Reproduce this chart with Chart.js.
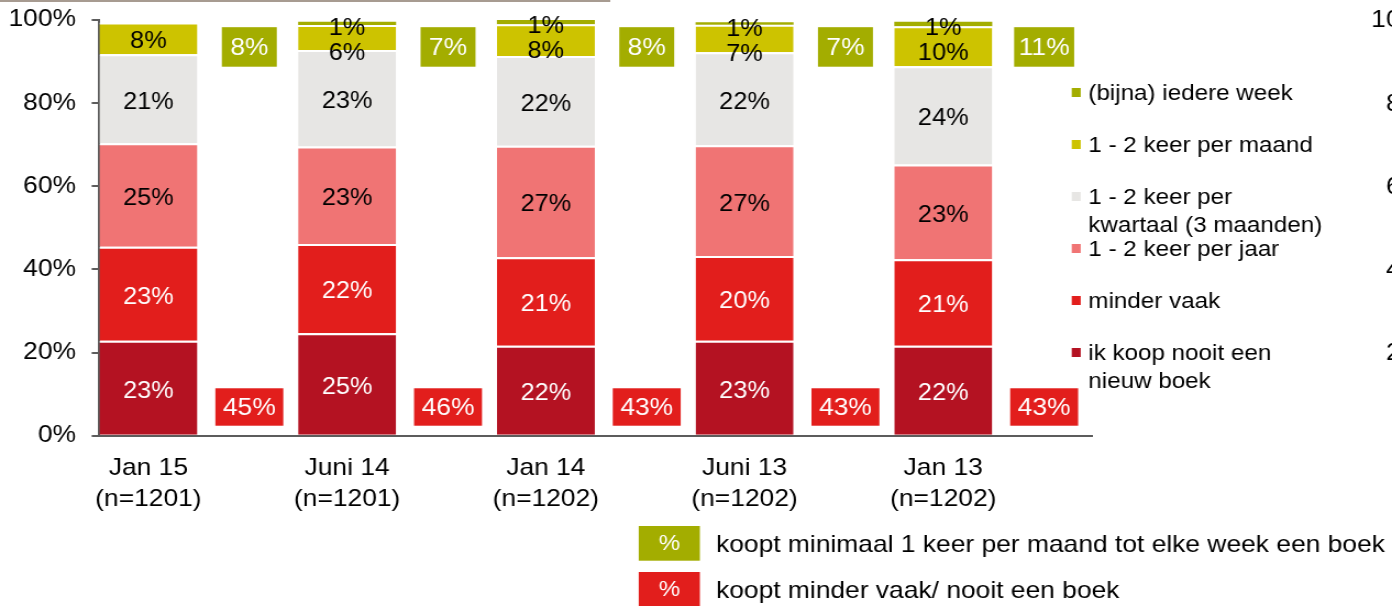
<!DOCTYPE html>
<html>
<head>
<meta charset="utf-8">
<script src="https://cdn.jsdelivr.net/npm/chart.js@4.4.1/dist/chart.umd.min.js"></script>
<style>
  html, body { margin: 0; padding: 0; background: #fff; overflow: hidden; }
  #wrap { width: 1392px; height: 606px; overflow: hidden; }
  /* the source picture is stretched sideways a little, so stretch the canvas too */
  #chart { transform: scaleX(1.09953); transform-origin: 0 0; }
</style>
</head>
<body>
<div id="wrap"><canvas id="chart" width="1266" height="606"></canvas></div>
<script>
// --- Data ---
const categories = [
    ['Jan 15', '(n=1201)'],
    ['Juni 14', '(n=1201)'],
    ['Jan 14', '(n=1202)'],
    ['Juni 13', '(n=1202)'],
    ['Jan 13', '(n=1202)']
];
const nooitValues = [22.8, 24.6, 21.6, 22.8, 21.6];      // ik koop nooit een nieuw boek
const minderValues = [22.6, 21.5, 21.3, 20.4, 20.8];     // minder vaak
const jaarValues = [24.9, 23.4, 26.8, 26.6, 22.8];       // 1 - 2 keer per jaar
const kwartaalValues = [21.4, 23.2, 21.6, 22.4, 23.6];   // 1 - 2 keer per kwartaal
const maandValues = [7.6, 6.0, 7.6, 6.6, 9.6];           // 1 - 2 keer per maand
const weekValues = [0, 0.8, 1.0, 0.6, 1.1];              // (bijna) iedere week
const monthlyTotals = [8, 7, 8, 7, 11];  // koopt minimaal 1 keer per maand
const lessTotals = [45, 46, 43, 43, 43]; // koopt minder vaak / nooit
const yTicks = [0, 20, 40, 60, 80, 100];

const seriesNames = [
    ['ik koop nooit een', 'nieuw boek'],
    ['minder vaak'],
    ['1 - 2 keer per jaar'],
    ['1 - 2 keer per', 'kwartaal (3 maanden)'],
    ['1 - 2 keer per maand'],
    ['(bijna) iedere week']
];
const bottomLegend = [
    'koopt minimaal 1 keer per maand tot elke week een boek',
    'koopt minder vaak/ nooit een boek'
];

// --- Styles ---
const FONT = '"Liberation Sans", Arial, sans-serif';
const seriesColors = ['#b41222', '#e21e1c', '#f07474', '#e7e6e4', '#cdc300', '#a3ad00'];
const labelColors = ['#fff', '#fff', '#000', '#000', '#000', '#000'];
const GREEN_BOX = '#a3ad00';
const RED_BOX = '#e21e1c';
const AXIS_GREY = '#5c5c5c';

// every category gets an empty slot after it for the total boxes
const slotLabels = categories.flatMap(c => [c, '']);
function toSlots(arr) {
    return arr.flatMap(v => [v, null]);
}

const seriesValues = [nooitValues, minderValues, jaarValues, kwartaalValues, maandValues, weekValues];
const datasets = seriesValues.map((vals, d) => ({
    label: seriesNames[d].join(' '),
    data: toSlots(vals),
    backgroundColor: seriesColors[d],
    borderColor: '#fff',
    borderWidth: d === 5 ? 0 : { top: 2, right: 0, bottom: 0, left: 0 },
    categoryPercentage: 1,
    barPercentage: 0.986
}));

function drawBox(ctx, cx, top, bottom, w, color, text) {
    ctx.fillStyle = color;
    ctx.fillRect(cx - w / 2, top, w, bottom - top);
    ctx.fillStyle = '#fff';
    ctx.fillText(text, cx, (top + bottom) / 2 + 1);
}

// --- Labels, total boxes and legends ---
const extrasPlugin = {
    id: 'extras',
    afterDraw(chart) {
        const ctx = chart.ctx;
        const xScale = chart.scales.x;
        const yScale = chart.scales.y;
        const weekMeta = chart.getDatasetMeta(5);
        ctx.save();

        // thin line at the very top of the slide
        ctx.fillStyle = '#a79b91';
        ctx.fillRect(0, 0, 555, 2);

        // segment labels
        ctx.textAlign = 'center';
        ctx.textBaseline = 'middle';
        ctx.font = '23px ' + FONT;
        chart.data.datasets.forEach((ds, d) => {
            const meta = chart.getDatasetMeta(d);
            meta.data.forEach((bar, i) => {
                const v = ds.data[i];
                if (!v) return;
                const c = i / 2;
                let ly = (bar.y + bar.base) / 2 + 3.5;
                if (d === 5) ly = bar.y + 7;
                if (d === 4 && weekValues[c] > 0) ly = weekMeta.data[i].y + 32;
                ctx.fillStyle = labelColors[d];
                ctx.fillText(Math.round(v) + '%', bar.x, ly);
            });
        });

        // total boxes next to each bar
        ctx.font = '24px ' + FONT;
        monthlyTotals.forEach((t, c) => {
            const cx = xScale.getPixelForValue(2 * c + 1) + 1.4;
            drawBox(ctx, cx, yScale.getPixelForValue(98.2), yScale.getPixelForValue(88.7),
                t >= 10 ? 54.6 : 50, GREEN_BOX, t + '%');
        });
        lessTotals.forEach((t, c) => {
            const cx = xScale.getPixelForValue(2 * c + 1) + 1.4;
            drawBox(ctx, cx, yScale.getPixelForValue(11.4), yScale.getPixelForValue(2.4),
                61.8, RED_BOX, t + '%');
        });

        // series legend on the right (top item = top of the stack)
        ctx.textAlign = 'left';
        ctx.font = '22px ' + FONT;
        let ly = 92.5;
        for (let d = seriesNames.length - 1; d >= 0; d--) {
            ctx.fillStyle = seriesColors[d];
            ctx.fillRect(974.7, ly - 4.5, 8.2, 9);
            ctx.fillStyle = '#000';
            seriesNames[d].forEach((line, k) => ctx.fillText(line, 989.8, ly + 1 + k * 28));
            ly += 52;
        }

        // key for the total boxes at the bottom
        const keyColors = [GREEN_BOX, RED_BOX];
        const keyTops = [526, 572];
        keyTops.forEach((top, k) => {
            ctx.fillStyle = keyColors[k];
            ctx.fillRect(580.9, top, 55.6, 34.7);
            ctx.fillStyle = '#fff';
            ctx.textAlign = 'center';
            ctx.font = '22px ' + FONT;
            ctx.fillText('%', 580.9 + 27.8, top + 17.5);
            ctx.fillStyle = '#000';
            ctx.textAlign = 'left';
            ctx.font = '24px ' + FONT;
            ctx.fillText(bottomLegend[k], 651.2, top + 19.5);
        });

        // axis of the next chart on the slide, cut off by the right edge
        ctx.textAlign = 'right';
        ctx.fillStyle = '#000';
        yTicks.forEach(v => ctx.fillText(v + '%', 1308.5, yScale.getPixelForValue(v) + 1));

        ctx.restore();
    }
};

// --- Chart ---
Chart.defaults.font.family = FONT;
Chart.defaults.color = '#000';

new Chart(document.getElementById('chart'), {
    type: 'bar',
    data: { labels: slotLabels, datasets: datasets },
    options: {
        responsive: false,
        animation: false,
        devicePixelRatio: 1,
        events: [],
        layout: { padding: { top: 19.7, right: 272.6, bottom: 0, left: 0 } },
        plugins: { legend: { display: false }, tooltip: { enabled: false } },
        scales: {
            x: {
                stacked: true,
                grid: { display: false, drawTicks: false },
                border: { display: true, color: AXIS_GREY, width: 2 },
                ticks: {
                    autoSkip: false,
                    maxRotation: 0,
                    padding: 17,
                    font: { size: 24, lineHeight: 31 / 24 }
                },
                afterFit(scale) { scale.height = 170.3; }
            },
            y: {
                stacked: true,
                min: 0,
                max: 100,
                grid: { drawOnChartArea: false, drawTicks: true, tickLength: 6.4, color: AXIS_GREY, lineWidth: 2 },
                border: { display: true, color: AXIS_GREY, width: 2 },
                ticks: {
                    stepSize: 20,
                    padding: 14.3,
                    font: { size: 24 },
                    callback: v => v + '%'
                },
                afterFit(scale) {
                    scale.width = 89.8;
                    // keep the plot top fixed by the layout padding only
                    scale.paddingTop = 0;
                    scale.paddingBottom = 0;
                }
            }
        }
    },
    plugins: [extrasPlugin]
});
</script>
</body>
</html>
